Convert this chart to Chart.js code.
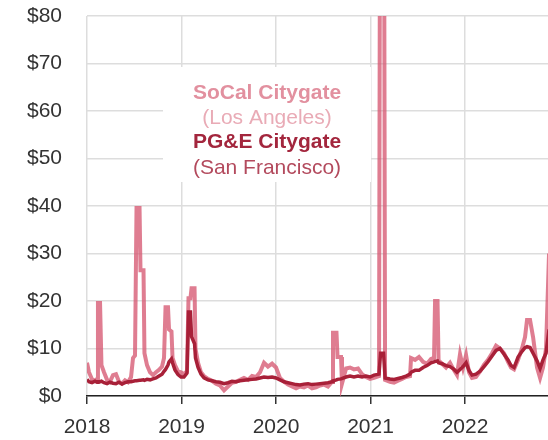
<!DOCTYPE html>
<html>
<head>
<meta charset="utf-8">
<script src="https://cdn.jsdelivr.net/npm/chart.js@4/dist/chart.umd.min.js"></script>
<style>
  html, body { margin: 0; padding: 0; background: #fff; overflow: hidden; }
  #wrap { width: 548px; height: 440px; position: relative; }
</style>
</head>
<body>
<div id="wrap"><canvas id="c" width="548" height="440"></canvas></div>
<script>
// Dates as decimal years
const dates = [
  2018.000, 2018.021, 2018.053, 2018.085, 2018.106, 2018.116, 2018.138, 2018.153, 2018.180, 2018.212,
  2018.243, 2018.275, 2018.307, 2018.339, 2018.370, 2018.402, 2018.434, 2018.466, 2018.487, 2018.508,
  2018.524, 2018.556, 2018.566, 2018.598, 2018.608, 2018.635, 2018.667, 2018.698, 2018.730, 2018.762,
  2018.794, 2018.815, 2018.831, 2018.857, 2018.868, 2018.894, 2018.905, 2018.931, 2018.963, 2018.995,
  2019.026, 2019.058, 2019.074, 2019.095, 2019.106, 2019.138, 2019.148, 2019.175, 2019.206, 2019.238,
  2019.280, 2019.323, 2019.365, 2019.407, 2019.450, 2019.492, 2019.534, 2019.577, 2019.619, 2019.661,
  2019.704, 2019.746, 2019.788, 2019.831, 2019.873, 2019.915, 2019.958, 2020.000, 2020.042, 2020.085,
  2020.127, 2020.169, 2020.212, 2020.254, 2020.296, 2020.339, 2020.381, 2020.423, 2020.466, 2020.508,
  2020.550, 2020.593, 2020.603, 2020.640, 2020.651, 2020.688, 2020.698, 2020.741, 2020.783, 2020.825,
  2020.868, 2020.910, 2020.952, 2020.995, 2021.037, 2021.090, 2021.106, 2021.138, 2021.154, 2021.206,
  2021.249, 2021.291, 2021.333, 2021.376, 2021.418, 2021.429, 2021.471, 2021.513, 2021.556, 2021.598,
  2021.640, 2021.672, 2021.683, 2021.709, 2021.720, 2021.757, 2021.799, 2021.841, 2021.884, 2021.915,
  2021.947, 2021.979, 2022.011, 2022.042, 2022.074, 2022.116, 2022.159, 2022.201, 2022.243, 2022.286,
  2022.328, 2022.370, 2022.413, 2022.455, 2022.487, 2022.519, 2022.561, 2022.603, 2022.635, 2022.656,
  2022.688, 2022.720, 2022.762, 2022.794, 2022.825, 2022.857, 2022.889, 2022.921
];

// SoCal Citygate (Los Angeles), $/MMBtu
const socal = [
  7.0, 5.0, 3.5, 3.2, 3.6, 19.6, 19.6, 6.5, 5.0, 3.4,
  3.0, 4.4, 4.6, 3.0, 2.6, 3.3, 2.9, 4.0, 8.0, 8.5,
  39.6, 39.6, 26.5, 26.5, 9.0, 6.5, 5.0, 4.4, 5.0, 5.5,
  6.2, 8.0, 18.7, 18.7, 14.0, 13.6, 8.0, 6.5, 5.2, 5.0,
  4.6, 5.2, 20.6, 20.6, 22.7, 22.7, 10.0, 7.0, 5.0, 4.2,
  3.6, 3.2, 2.6, 2.2, 1.2, 2.0, 2.8, 3.0, 3.4, 3.8,
  3.4, 4.2, 4.0, 5.0, 7.0, 6.2, 6.8, 6.0, 3.8, 3.0,
  2.4, 2.0, 1.6, 2.0, 1.8, 2.2, 1.6, 1.8, 2.2, 2.4,
  2.0, 3.0, 13.3, 13.3, 8.2, 8.2, 2.6, 5.8, 6.0, 5.6,
  5.8, 4.6, 4.0, 3.6, 3.8, 4.2, 160, 160, 3.4, 3.0,
  2.8, 3.2, 3.6, 4.0, 4.2, 8.0, 7.6, 8.2, 7.2, 6.8,
  7.8, 8.0, 20.0, 20.0, 7.5, 6.8, 6.0, 7.0, 5.4, 4.4,
  8.8, 6.0, 8.6, 5.0, 3.8, 4.0, 5.2, 6.6, 7.6, 9.0,
  10.6, 10.0, 9.0, 7.2, 6.0, 5.6, 7.6, 10.0, 12.4, 16.0,
  16.0, 12.4, 6.0, 3.8, 6.0, 10.0, 30.0, 50.0
];

// PG&E Citygate (San Francisco), $/MMBtu
const pge = [
  3.5, 3.0, 2.8, 3.1, 2.9, 3.0, 3.0, 3.1, 2.8, 2.6,
  2.9, 2.7, 2.6, 2.9, 2.5, 2.8, 3.0, 3.0, 3.1, 3.2,
  3.2, 3.3, 3.3, 3.4, 3.3, 3.5, 3.4, 3.6, 3.8, 4.2,
  4.6, 5.2, 5.6, 6.5, 7.2, 7.8, 7.0, 5.5, 4.5, 4.0,
  4.0, 4.8, 17.7, 17.7, 12.5, 11.0, 8.0, 6.0, 4.6, 3.8,
  3.4, 3.2, 3.0, 2.9, 2.6, 2.8, 3.1, 3.0, 3.2, 3.3,
  3.4, 3.5, 3.6, 3.8, 4.0, 3.9, 4.0, 3.8, 3.4, 3.0,
  2.8, 2.6, 2.4, 2.3, 2.5, 2.6, 2.4, 2.5, 2.6, 2.7,
  2.8, 3.0, 3.2, 3.4, 3.5, 3.6, 3.6, 4.0, 4.2, 4.0,
  4.2, 4.0, 4.2, 4.0, 4.4, 4.6, 9.0, 9.0, 3.8, 3.6,
  3.5, 3.7, 3.9, 4.2, 4.6, 5.0, 5.4, 5.4, 6.0, 6.4,
  7.0, 7.2, 7.3, 7.4, 7.0, 6.8, 6.4, 6.2, 5.6, 5.0,
  5.6, 6.2, 7.0, 5.4, 4.4, 4.6, 5.2, 6.2, 7.2, 8.4,
  9.6, 10.0, 8.8, 7.6, 6.4, 6.0, 8.2, 9.4, 10.2, 10.4,
  10.2, 9.0, 7.4, 5.8, 7.6, 9.0, 14.0, 25.0
];

const yearTicks = [2018, 2019, 2020, 2021, 2022];
const priceTicks = [0, 10, 20, 30, 40, 50, 60, 70, 80];

const labelLines = [
  { text: 'SoCal Citygate', bold: true, color: '#e2909f' },
  { text: '(Los Angeles)', bold: false, color: '#e9abb6' },
  { text: 'PG&E Citygate', bold: true, color: '#a3263d' },
  { text: '(San Francisco)', bold: false, color: '#b34a5d' }
];

const FONT = '"Liberation Sans", Arial, sans-serif';

const boxPlugin = {
  id: 'labelBox',
  beforeDatasetsDraw(chart) {
    const ctx = chart.ctx;
    ctx.save();
    ctx.fillStyle = '#ffffff';
    ctx.fillRect(163, 67, 208, 115);
    ctx.restore();
  },
  afterDraw(chart) {
    const ctx = chart.ctx;
    ctx.save();
    ctx.textAlign = 'center';
    ctx.textBaseline = 'middle';
    const ys = [93, 118, 142, 168];
    labelLines.forEach((l, i) => {
      ctx.font = (l.bold ? 'bold ' : '') + '21px ' + FONT;
      ctx.fillStyle = l.color;
      ctx.fillText(l.text, 267, ys[i]);
    });
    ctx.restore();
  }
};

new Chart(document.getElementById('c'), {
  type: 'line',
  data: {
    datasets: [
      {
        label: 'PG&E Citygate',
        data: dates.map((d, i) => ({ x: d, y: pge[i] })),
        borderColor: 'rgb(168,32,56)',
        borderWidth: 3.5,
        pointRadius: 0,
        tension: 0
      },
      {
        label: 'SoCal Citygate',
        data: dates.map((d, i) => ({ x: d, y: socal[i] })),
        borderColor: 'rgba(214,88,114,0.78)',
        borderWidth: 4,
        pointRadius: 0,
        tension: 0
      }
    ]
  },
  options: {
    responsive: false,
    animation: false,
    layout: { padding: { top: 16, right: 0, left: 0, bottom: 0 } },
    plugins: { legend: { display: false }, tooltip: { enabled: false } },
    scales: {
      x: {
        type: 'linear',
        min: 2018,
        max: 2022.878,
        afterFit: s => { s.height = 44; s.paddingLeft = 0; s.paddingRight = 0; },
        afterBuildTicks: s => { s.ticks = yearTicks.map(v => ({ value: v })); },
        ticks: {
          includeBounds: false,
          autoSkip: false,
          maxRotation: 0,
          padding: 11,
          color: '#333',
          font: { family: FONT, size: 21 },
          callback: v => String(v)
        },
        grid: { color: '#dddddd', lineWidth: 1.5, tickColor: '#333', tickLength: 8 },
        border: { display: true, color: '#222', width: 1.5 }
      },
      y: {
        min: 0,
        max: 80,
        afterFit: s => { s.width = 87; s.paddingTop = 0; s.paddingBottom = 0; },
        afterBuildTicks: s => { s.ticks = priceTicks.map(v => ({ value: v })); },
        ticks: {
          padding: 25,
          color: '#333',
          font: { family: FONT, size: 21 },
          callback: v => '$' + v
        },
        grid: { color: '#dddddd', lineWidth: 1.5, drawTicks: false },
        border: { display: false }
      }
    }
  },
  plugins: [boxPlugin]
});
</script>
</body>
</html>
